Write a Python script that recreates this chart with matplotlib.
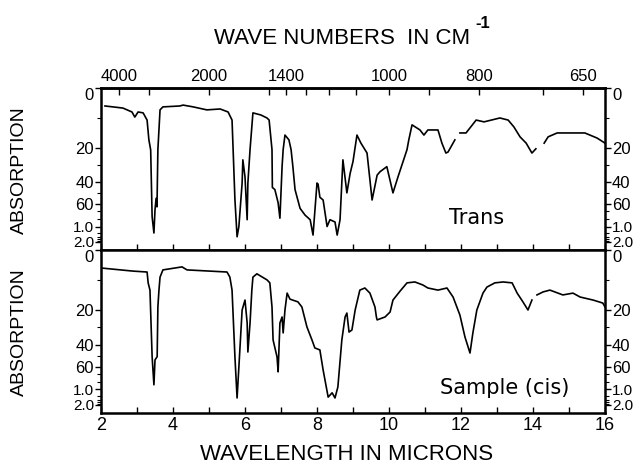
import numpy as np
import matplotlib
matplotlib.use("Agg")
import matplotlib.pyplot as plt
from matplotlib.ticker import FixedLocator, NullFormatter

plt.rcParams['font.family'] = ['Liberation Sans', 'DejaVu Sans']

# --- data: wavelength (microns) vs. absorption (percent; 90 = 1.0, 99 = 2.0 absorbance)
trans_um = [2.11, 2.33, 2.61, 2.86, 2.94, 3.03, 3.17, 3.28, 3.33, 3.38, 3.42, 3.47, 3.50,
            3.53, 3.555, 3.58, 3.64, 3.72, 4.19, 4.28, 4.56, 4.94, 5.31, 5.53, 5.64, 5.67,
            5.72, 5.78, 5.83, 5.92, 5.94, 6.00, 6.06, 6.08, 6.14, 6.22, 6.44, 6.61, 6.67,
            6.75, 6.76, 6.83, 6.92, 6.97, 7.03, 7.06, 7.11, 7.22, 7.28, 7.33, 7.39, 7.53,
            7.67, 7.81, 7.89, 8.00, 8.03, 8.08, 8.17, 8.28, 8.36, 8.50, 8.56, 8.64, 8.72,
            8.83, 8.92, 9.00, 9.11, 9.22, 9.39, 9.53, 9.67, 9.75, 9.94, 10.11, 10.25, 10.50,
            10.55, 10.64, 10.86, 10.97, 11.08, 11.36, 11.47, 11.58, 11.64, 11.83,
            11.90,
            11.97, 12.14, 12.42, 12.64, 13.08, 13.31, 13.47, 13.64, 13.81, 13.97, 14.08,
            14.20,
            14.31, 14.42, 14.67, 15.44, 15.78, 16.0]
trans_abs = [6.0, 6.3, 6.7, 8.0, 9.7, 8.0, 8.3, 10.7, 17.3, 21.2, 77.0, 93.8, 68.0,
             55.0, 64.0, 21.0, 7.3, 6.3, 6.0, 5.7, 6.3, 7.3, 7.0, 8.0, 10.7, 21.0,
             56.0, 96.0, 90.0, 41.0, 27.0, 37.0, 81.0, 41.0, 21.0, 8.3, 9.0, 10.0, 10.7,
             21.0, 45.0, 47.0, 59.0, 79.0, 31.0, 21.0, 15.7, 17.3, 21.0, 31.0, 47.0, 66.0,
             75.0, 81.0, 95.0, 41.0, 42.0, 54.0, 56.5, 90.0, 81.0, 84.0, 95.0, 81.0, 27.0,
             50.0, 35.0, 28.0, 15.7, 18.4, 23.0, 56.5, 36.0, 34.0, 31.0, 50.0, 37.0, 21.0,
             17.3, 12.3, 14.0, 15.7, 14.0, 14.0, 18.4, 23.0, 22.4, 17.3,
             np.nan,
             15.0, 15.0, 10.7, 11.3, 10.0, 10.7, 13.0, 16.3, 18.4, 23.0, 20.5,
             np.nan,
             18.4, 16.3, 15.0, 15.0, 16.7, 18.4]

cis_um = [2.03, 2.89, 3.28, 3.31, 3.36, 3.42, 3.47, 3.50, 3.56, 3.58, 3.61, 3.64, 3.72,
          4.25, 4.39, 5.50, 5.58, 5.64, 5.72, 5.78, 5.83, 5.92, 6.00, 6.06, 6.08, 6.14,
          6.19, 6.22, 6.33, 6.61, 6.69, 6.75, 6.78, 6.89, 6.92, 6.97, 7.03, 7.06, 7.11,
          7.17, 7.25, 7.47, 7.58, 7.72, 7.86, 7.94, 8.08, 8.17, 8.31, 8.42, 8.50, 8.58,
          8.69, 8.78, 8.83, 8.89, 8.97, 9.06, 9.19, 9.33, 9.47, 9.61, 9.65, 9.67, 9.89,
          10.03, 10.11, 10.31, 10.50, 10.72, 10.94, 11.08, 11.36, 11.61, 11.78, 11.97,
          12.11, 12.25, 12.33, 12.44, 12.61, 12.72, 12.94, 13.17, 13.42, 13.56, 13.72,
          13.86, 13.97,
          14.04,
          14.11, 14.28, 14.47, 14.83, 15.11, 15.31, 15.67, 15.94, 16.0]
cis_abs = [6.0, 7.0, 7.3, 10.9, 13.3, 51.0, 84.0, 54.0, 51.0, 18.9, 13.3, 9.0, 6.6,
           5.6, 6.6, 7.3, 9.0, 13.3, 51.0, 95.0, 60.6, 19.9, 16.6, 27.4, 46.8, 27.4,
           13.3, 9.0, 7.9, 9.9, 10.9, 18.9, 37.3, 51.3, 67.0, 27.4, 23.9, 33.2, 19.9,
           14.3, 16.3, 17.2, 18.9, 29.7, 37.3, 43.1, 44.9, 64.5, 94.5, 92.0, 95.0, 86.8,
           37.3, 23.9, 21.6, 32.7, 31.5, 19.9, 13.3, 12.6, 14.3, 18.9, 23.9, 25.6, 23.9,
           21.0, 16.6, 13.6, 10.9, 10.6, 11.6, 12.6, 13.3, 12.6, 15.6, 22.8,
           35.6, 47.7, 33.2, 19.9, 14.3, 12.3, 10.9, 10.6, 10.9, 14.3, 17.2,
           19.9, 16.6,
           np.nan,
           14.9, 13.9, 13.3, 14.9, 14.3, 15.6, 16.6, 17.6, 18.9]

um_major = [2, 4, 6, 8, 10, 12, 14, 16]
um_minor = [3, 5, 7, 9, 11, 13, 15]
wn_major = [4000, 2000, 1400, 1000, 800, 650]
wn_minor = [3000, 1500, 1300, 1200, 1100, 900, 700]
abs_ticks = [0, 20, 40, 60, 90, 99]
abs_labels = ['0', '20', '40', '60', '1.0', '2.0']
abs_minor = [10, 30, 50, 70, 80, 93.7, 96, 97.5, 98.4]

# chart paper scale: percent absorption -> fraction of panel depth
scale_pct = [0, 20, 40, 60, 90, 99, 100]
scale_depth = [0, 0.37, 0.58, 0.715, 0.855, 0.95, 1.0]


def fwd(v):
    return np.interp(v, scale_pct, scale_depth)


def inv(v):
    return np.interp(v, scale_depth, scale_pct)


W, H = 634, 474
fig = plt.figure(figsize=(W / 100, H / 100), dpi=100)

left, right = 101 / W, 605 / W
y_top, y_mid, y_bot = 88, 250, 413
ax1 = fig.add_axes([left, 1 - y_mid / H, right - left, (y_mid - y_top) / H])
ax2 = fig.add_axes([left, 1 - y_bot / H, right - left, (y_bot - y_mid) / H])

for ax, xs, ys in [(ax1, trans_um, trans_abs), (ax2, cis_um, cis_abs)]:
    ax.plot(xs, ys, color='black', lw=1.2)
    ax.set_yscale('function', functions=(fwd, inv))
    ax.set_xlim(2, 16)
    ax.set_ylim(100, 0)
    ax.yaxis.set_major_locator(FixedLocator(abs_ticks))
    ax.set_yticklabels(abs_labels)
    ax.yaxis.set_minor_locator(FixedLocator(abs_minor))
    ax.yaxis.set_minor_formatter(NullFormatter())
    ax.tick_params(axis='y', which='both', left=True, right=True, labelleft=True,
                   labelright=True, direction='out', labelsize=12, pad=1)
    ax.tick_params(axis='y', which='major', length=4, width=1)
    ax.tick_params(axis='y', which='minor', length=3, width=0.8)
    ax.xaxis.set_major_locator(FixedLocator(um_major))
    ax.xaxis.set_minor_locator(FixedLocator(um_minor))
    ax.tick_params(axis='x', which='both', direction='in', top=False, length=4, width=1)
    for s in ax.spines.values():
        s.set_linewidth(1.8)
    ticks = ax.yaxis.get_major_ticks()
    # "0" labels sit just below the top edge, absorbance labels are smaller
    ticks[0].label1.set_va('top')
    ticks[0].label2.set_va('top')
    for t in ticks[4:]:
        t.label1.set_fontsize(11)
        t.label2.set_fontsize(11)

ax1.tick_params(axis='x', which='both', labelbottom=False)
ax2.tick_params(axis='x', which='major', labelsize=13, pad=3)

sec = ax1.secondary_xaxis('top', functions=(lambda x: 1e4 / x, lambda x: 1e4 / x))
sec.set_ticks(wn_major)
sec.set_xticklabels([str(v) for v in wn_major])
sec.xaxis.set_minor_locator(FixedLocator(wn_minor))
sec.tick_params(axis='x', which='both', direction='in', length=5, width=1,
                labelsize=12, pad=3)
sec.spines['top'].set_linewidth(1.8)

title = fig.text(342 / W, 1 - 38 / H, 'WAVE NUMBERS  IN CM', ha='center', va='center',
                 fontsize=16)
ax1.annotate('-1', xy=(1, 1), xycoords=title, xytext=(4, 3),
             textcoords='offset points', ha='left', va='center',
             fontsize=12, fontweight='bold', annotation_clip=False)
fig.text(347 / W, 1 - 455 / H, 'WAVELENGTH IN MICRONS', ha='center', va='center',
         fontsize=16)
fig.text(19 / W, 1 - 170 / H, 'ABSORPTION', rotation=90, ha='center', va='center',
         fontsize=14)
fig.text(19 / W, 1 - 332 / H, 'ABSORPTION', rotation=90, ha='center', va='center',
         fontsize=14)
ax1.text(0.745, 0.20, 'Trans', transform=ax1.transAxes, fontsize=15,
         ha='center', va='center', family=['DejaVu Sans'])
ax2.text(0.80, 0.155, 'Sample (cis)', transform=ax2.transAxes, fontsize=15,
         ha='center', va='center', family=['DejaVu Sans'])

fig.savefig('out.png', dpi=100)
